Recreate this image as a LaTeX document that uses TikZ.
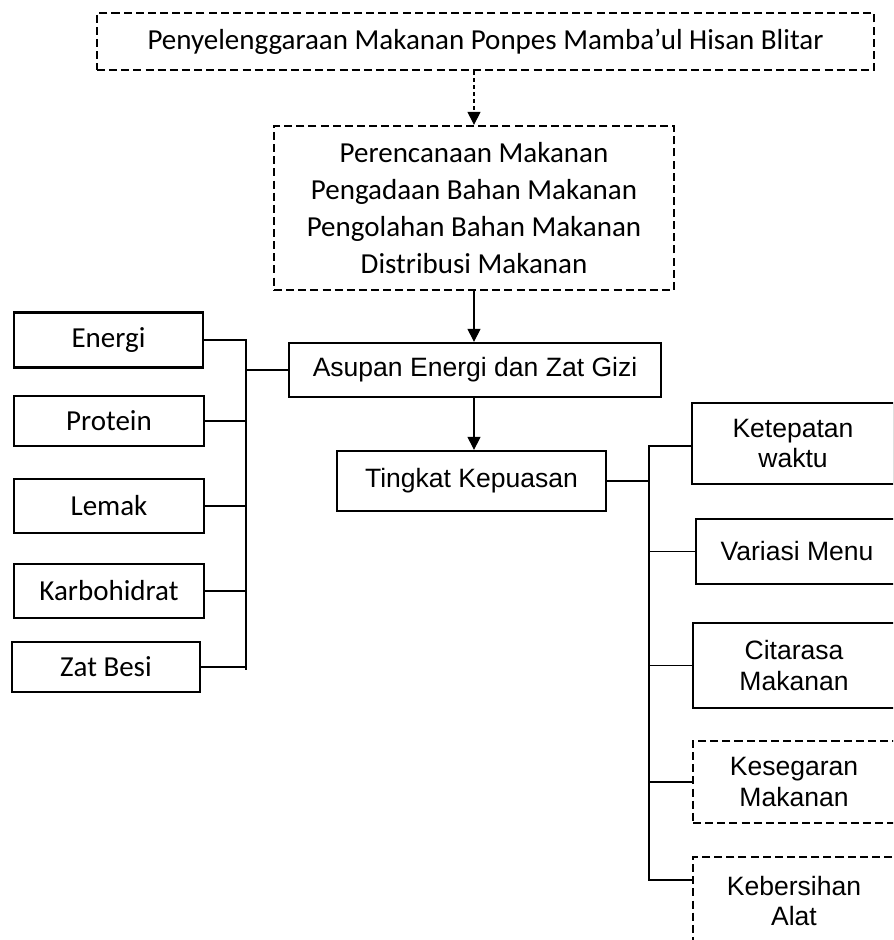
\documentclass[tikz,border=0pt]{standalone}
\usepackage{fontspec}
\setmainfont{Carlito}
\newfontfamily\arialfont{Liberation Sans}
\usetikzlibrary{arrows.meta}
\begin{document}
\begin{tikzpicture}[
	box/.style={draw, line width=1.3pt, inner sep=0pt, align=center},
	dbox/.style={box, dash pattern=on 4.6pt off 2.3pt},
	cal/.style={font=\fontsize{16.5}{21}\selectfont},
	ari/.style={font=\arialfont\fontsize{15.1}{17.5}\selectfont},
	link/.style={line width=0.6pt},
	arr/.style={line width=0.6pt, -{Triangle[length=0.26cm,width=0.26cm]}}
]
			\useasboundingbox (0,0) rectangle (17.86,-18.8);
			\clip (0,0) rectangle (17.86,-18.8);
			\node[dbox,cal,minimum width=15.54cm,minimum height=1.14cm] (penyelenggaraan) at (9.71,-0.83) {Penyelenggaraan Makanan Ponpes Mamba'ul Hisan Blitar};
			\node[dbox,cal,minimum width=8cm,minimum height=3.28cm] (proses) at (9.48,-4.16) {Perencanaan Makanan\\Pengadaan Bahan Makanan\\Pengolahan Bahan Makanan\\Distribusi Makanan};
			\node[box,ari,minimum width=7.44cm,minimum height=1.08cm] (asupan) at (9.5,-7.4) {Asupan Energi dan Zat Gizi};
			\node[box,ari,minimum width=5.38cm,minimum height=1.2cm] (tingkat) at (9.43,-9.62) {Tingkat Kepuasan};
			\draw[arr,dash pattern=on 2.3pt off 1.7pt] (proses.north |- penyelenggaraan.south) -- (proses.north);
			\draw[arr] (proses.south) -- (proses.south |- asupan.north);
			\draw[arr] (proses.south |- asupan.south) -- (proses.south |- tingkat.north);
			\node[box,cal,minimum width=3.78cm,minimum height=1.1cm] (energi) at (2.17,-6.8) {Energi};
			\node[box,cal,minimum width=3.8cm,minimum height=1.0cm] (protein) at (2.18,-8.42) {Protein};
			\node[box,cal,minimum width=3.8cm,minimum height=1.08cm] (lemak) at (2.18,-10.12) {Lemak};
			\node[box,cal,minimum width=3.8cm,minimum height=1.08cm] (karbohidrat) at (2.18,-11.82) {Karbohidrat};
			\node[box,cal,minimum width=3.76cm,minimum height=1.0cm] (zatbesi) at (2.12,-13.34) {Zat Besi};
			\coordinate (lbus) at (4.92,-6.82);
			\draw[link] (energi.east) -- (energi.east -| lbus) -- (4.92,-13.4);
			\draw[link] (protein.east) -- (protein.east -| lbus);
			\draw[link] (lemak.east) -- (lemak.east -| lbus);
			\draw[link] (karbohidrat.east) -- (karbohidrat.east -| lbus);
			\draw[link] (zatbesi.east) -- (zatbesi.east -| lbus);
			\draw[link] (asupan.west) -- (asupan.west -| lbus);
			\node[box,ari,minimum width=4.04cm,minimum height=1.62cm] (ketepatan) at (15.86,-8.87) {Ketepatan\\waktu};
			\node[box,ari,minimum width=4.04cm,minimum height=1.3cm] (variasi) at (15.94,-11.03) {Variasi Menu};
			\node[box,ari,minimum width=4.04cm,minimum height=1.7cm] (citarasa) at (15.88,-13.31) {Citarasa\\Makanan};
			\node[dbox,ari,minimum width=4.04cm,minimum height=1.64cm] (kesegaran) at (15.88,-15.64) {Kesegaran\\Makanan};
			\node[dbox,minimum width=4.04cm,minimum height=3.66cm] (kebersihanbox) at (15.88,-18.97) {};
			\node[ari,align=center] (kebersihan) at (15.88,-18.02) {Kebersihan\\Alat};
			\coordinate (rbus) at (12.98,-8.92);
			\coordinate (kblink) at (13.86,-17.6);
			\draw[link] (ketepatan.west |- rbus) -- (rbus) -- (rbus |- kblink) -- (kblink);
			\draw[link] (tingkat.east) -- (tingkat.east -| rbus);
			\draw[link] (variasi.west) -- (variasi.west -| rbus);
			\draw[link] (citarasa.west) -- (citarasa.west -| rbus);
			\draw[link] (kesegaran.west) -- (kesegaran.west -| rbus);
		\end{tikzpicture}
\end{document}
